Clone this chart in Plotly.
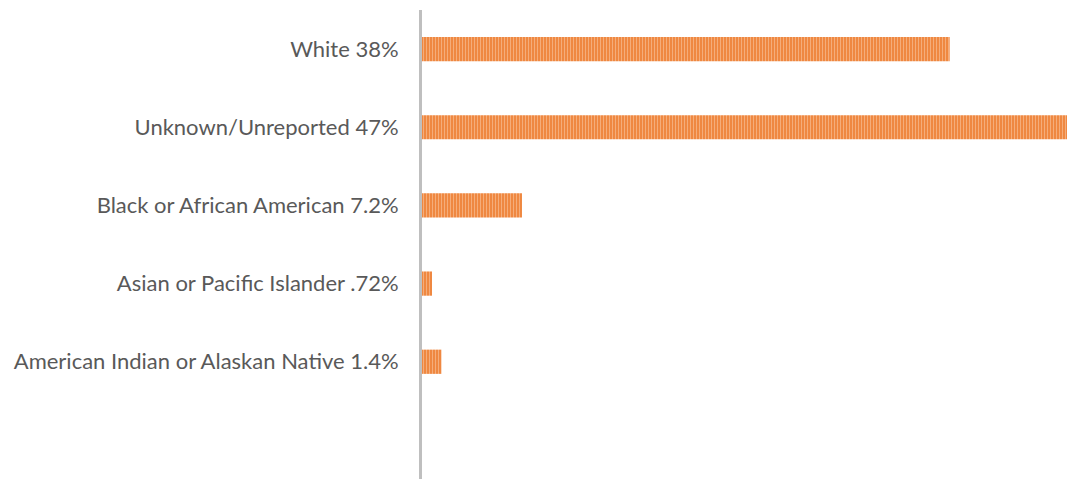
import plotly.graph_objects as go

categories = ["White 38%", "Unknown/Unreported 47%", "Black or African American 7.2%",
              "Asian or Pacific Islander .72%", "American Indian or Alaskan Native 1.4%", " "]
values = [38, 47, 7.2, 0.72, 1.4, None]

fig = go.Figure(go.Bar(
    y=categories, x=values, orientation="h", width=0.31,
    marker=dict(color="#ED7D31", line=dict(width=0),
                pattern=dict(shape="|", fgcolor="#FBD9C0", bgcolor="#EE8035",
                             size=3, solidity=0.45, fillmode="overlay")),
    hoverinfo="skip",
))

fig.update_layout(
    width=1067, height=479,
    margin=dict(l=422, r=0, t=10, b=0),
    plot_bgcolor="white", paper_bgcolor="white",
    showlegend=False,
)
fig.update_xaxes(range=[0, 46.45], showgrid=False, zeroline=False, showticklabels=False,
                 showline=False, fixedrange=True)
fig.update_yaxes(autorange="reversed", showgrid=False, zeroline=False,
                 showline=True, linecolor="#BFBFBF", linewidth=3, fixedrange=True,
                 ticks="", ticklabelstandoff=16,
                 tickfont=dict(family="Lato", size=22, color="#595959"))

fig.write_html("out.html", config={"displayModeBar": False},
               post_script="document.body.style.margin='0';document.body.style.overflow='hidden';")
